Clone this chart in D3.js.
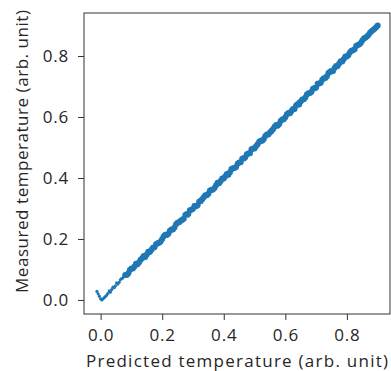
<!DOCTYPE html>
<html>
<head>
<meta charset="utf-8">
<script src="https://cdn.jsdelivr.net/npm/d3@7"></script>
<style>
  html, body { margin: 0; padding: 0; background: #fff; }
  svg { display: block; }
  text { font-family: "Open Sans", "Noto Sans", sans-serif; fill: #262626; }
</style>
</head>
<body>
<svg id="chart" width="391" height="371"></svg>
<script>
// ---- data ----
const xTicks = [0.0, 0.2, 0.4, 0.6, 0.8];
const yTicks = [0.0, 0.2, 0.4, 0.6, 0.8];
const xLabel = "Predicted temperature (arb. unit)";
const yLabel = "Measured temperature (arb. unit)";

// sparse low-end tail
const tailPredicted = [-0.012,-0.008,-0.004,0.000,0.004,0.008,0.012,0.016,0.020,0.024,0.028,0.032,0.036,0.040,0.044,0.048,0.052,0.056,0.060,0.064,0.068,0.072,0.076,0.080,0.084,0.088,0.092,0.096,0.100,0.104,0.108,0.112];
const tailMeasured  = [0.028,0.020,0.012,0.004,0.000,0.004,0.008,0.012,0.016,0.022,0.030,0.026,0.034,0.042,0.040,0.046,0.056,0.052,0.058,0.066,0.070,0.072,0.078,0.082,0.084,0.090,0.093,0.097,0.101,0.104,0.109,0.112];

// dense main band
const predicted = [0.08,0.09,0.10,0.11,0.12,0.13,0.14,0.15,0.16,0.17,0.18,0.19,0.20,0.21,0.22,0.23,0.24,0.25,0.26,0.27,0.28,0.29,0.30,0.31,0.32,0.33,0.34,0.35,0.36,0.37,0.38,0.39,0.40,0.41,0.42,0.43,0.44,0.45,0.46,0.47,0.48,0.49,0.50,0.51,0.52,0.53,0.54,0.55,0.56,0.57,0.58,0.59,0.60,0.61,0.62,0.63,0.64,0.65,0.66,0.67,0.68,0.69,0.70,0.71,0.72,0.73,0.74,0.75,0.76,0.77,0.78,0.79,0.80,0.81,0.82,0.83,0.84,0.85,0.86,0.87,0.88,0.89,0.90];
const measured  = [0.082,0.088,0.103,0.110,0.117,0.132,0.144,0.149,0.157,0.171,0.183,0.188,0.200,0.214,0.217,0.231,0.238,0.253,0.260,0.266,0.282,0.294,0.299,0.307,0.322,0.330,0.343,0.348,0.361,0.367,0.384,0.390,0.398,0.413,0.419,0.432,0.436,0.451,0.463,0.468,0.480,0.494,0.497,0.511,0.522,0.528,0.543,0.549,0.560,0.574,0.577,0.592,0.599,0.613,0.620,0.626,0.642,0.651,0.658,0.674,0.679,0.693,0.697,0.710,0.722,0.728,0.744,0.749,0.761,0.767,0.783,0.790,0.798,0.812,0.819,0.833,0.838,0.851,0.860,0.869,0.881,0.889,0.900];

// in-between fill points of the band
const fillPredicted = [0.085,0.095,0.105,0.115,0.125,0.135,0.145,0.155,0.165,0.175,0.185,0.195,0.205,0.215,0.225,0.235,0.245,0.255,0.265,0.275,0.285,0.295,0.305,0.315,0.325,0.335,0.345,0.355,0.365,0.375,0.385,0.395,0.405,0.415,0.425,0.435,0.445,0.455,0.465,0.475,0.485,0.495,0.505,0.515,0.525,0.535,0.545,0.555,0.565,0.575,0.585,0.595,0.605,0.615,0.625,0.635,0.645,0.655,0.665,0.675,0.685,0.695,0.705,0.715,0.725,0.735,0.745,0.755,0.765,0.775,0.785,0.795,0.805,0.815,0.825,0.835,0.845,0.855,0.865,0.875,0.885,0.895];
const fillMeasured  = [0.082,0.098,0.103,0.119,0.124,0.137,0.141,0.158,0.165,0.173,0.186,0.192,0.209,0.213,0.227,0.231,0.248,0.255,0.263,0.279,0.282,0.296,0.308,0.311,0.325,0.337,0.343,0.359,0.362,0.376,0.383,0.398,0.406,0.411,0.429,0.433,0.447,0.452,0.465,0.478,0.481,0.497,0.504,0.519,0.522,0.538,0.543,0.555,0.568,0.571,0.587,0.593,0.609,0.612,0.626,0.638,0.641,0.657,0.664,0.678,0.683,0.695,0.709,0.712,0.727,0.734,0.748,0.751,0.767,0.775,0.782,0.798,0.803,0.817,0.822,0.836,0.843,0.857,0.864,0.876,0.885,0.894];

// stray specks
const strayPredicted = [0.150,0.265,0.285,0.300,0.330,0.420,0.470,0.560,0.640,0.700,0.745,0.810];
const strayMeasured  = [0.162,0.255,0.272,0.313,0.318,0.434,0.458,0.548,0.652,0.688,0.757,0.800];

// ---- chart ----
const svg = d3.select("#chart");
const L = 84, R = 390, T = 13, B = 314;
const x = d3.scaleLinear().domain([-0.054, 0.94]).range([L, R]);
const y = d3.scaleLinear().domain([-0.046, 0.941]).range([B, T]);
const blue = "#1f77b4";

const plot = svg.append("g");
plot.append("g").selectAll("circle")
  .data(d3.zip(predicted, measured)).join("circle")
  .attr("cx", d => x(d[0])).attr("cy", d => y(d[1])).attr("r", 3.0).attr("fill", blue);
plot.append("g").selectAll("circle")
  .data(d3.zip(fillPredicted, fillMeasured)).join("circle")
  .attr("cx", d => x(d[0])).attr("cy", d => y(d[1])).attr("r", 3.0).attr("fill", blue);
plot.append("g").selectAll("circle")
  .data(d3.zip(tailPredicted, tailMeasured)).join("circle")
  .attr("cx", d => x(d[0])).attr("cy", d => y(d[1])).attr("r", 1.6).attr("fill", blue);
plot.append("g").selectAll("circle")
  .data(d3.zip(strayPredicted, strayMeasured)).join("circle")
  .attr("cx", d => x(d[0])).attr("cy", d => y(d[1])).attr("r", 1.1).attr("fill", blue).attr("opacity", 0.8);

// axes
const fmt = d3.format(".1f");
const xAxis = svg.append("g").attr("transform", `translate(0,${B})`)
  .call(d3.axisBottom(x).tickValues(xTicks).tickFormat(fmt).tickSize(6).tickPadding(9));
const yAxis = svg.append("g").attr("transform", `translate(${L},0)`)
  .call(d3.axisLeft(y).tickValues(yTicks).tickFormat(fmt).tickSize(6).tickPadding(9));
[xAxis, yAxis].forEach(a => {
  a.select(".domain").remove();
  a.selectAll(".tick line").attr("stroke", "#333").attr("stroke-width", 1);
  a.selectAll(".tick text").style("font-size", "17px").attr("fill", "#3a3a3a")
    .style("font-family", "'Open Sans', sans-serif").style("letter-spacing", "0.8px");
});

// frame
svg.append("rect").attr("x", L).attr("y", T).attr("width", R - L).attr("height", B - T)
  .attr("fill", "none").attr("stroke", "#333").attr("stroke-width", 1);

// axis labels
svg.append("text").attr("x", (L + R) / 2).attr("y", 367).attr("text-anchor", "middle")
  .attr("textLength", 302).attr("lengthAdjust", "spacing")
  .style("font-size", "17px").attr("fill", "#3a3a3a").text(xLabel);
svg.append("text").attr("transform", "translate(28,151.5) rotate(-90)")
  .attr("text-anchor", "middle").attr("textLength", 283).attr("lengthAdjust", "spacing")
  .style("font-size", "17px").attr("fill", "#3a3a3a").text(yLabel);
</script>
</body>
</html>
